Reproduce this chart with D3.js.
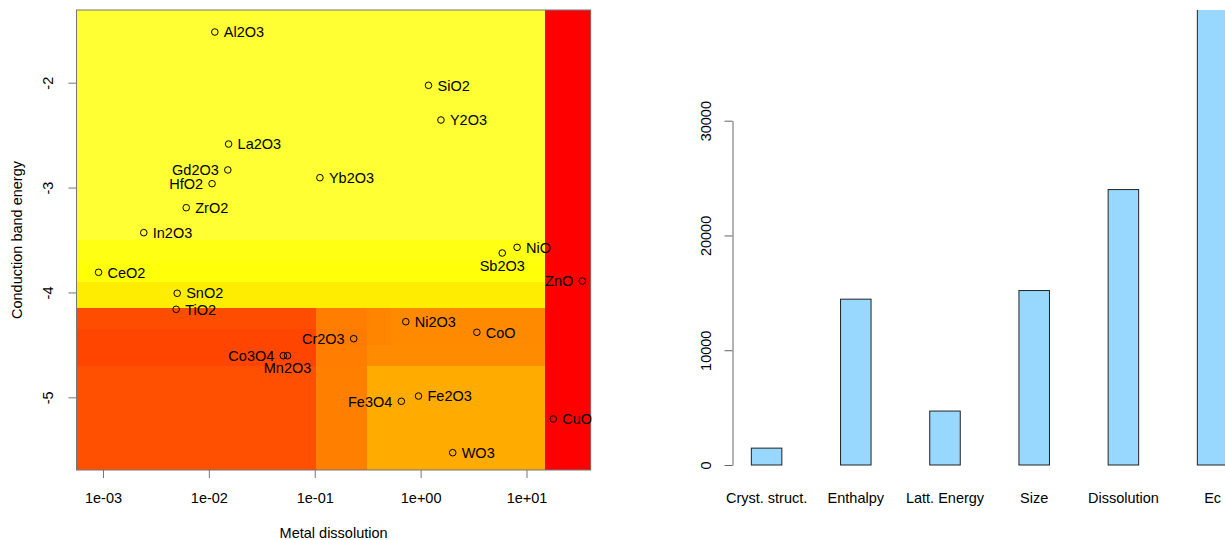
<!DOCTYPE html>
<html><head><meta charset="utf-8">
<script src="https://cdn.jsdelivr.net/npm/d3@7"></script>
<style>
body{margin:0;background:#fff}
svg{display:block}
text{font-family:"Liberation Sans",Arial,Helvetica,sans-serif;font-size:14.5px;fill:#000}
</style>
</head><body>
<svg id="chart" width="1225" height="540"></svg>
<script>
// ---- scatter data ----
const oxides = ["Al2O3","SiO2","Y2O3","La2O3","Gd2O3","HfO2","Yb2O3","ZrO2","In2O3","NiO","Sb2O3","CeO2","ZnO","SnO2","TiO2","Ni2O3","CoO","Cr2O3","Co3O4","Mn2O3","Fe2O3","Fe3O4","CuO","WO3"];
const dissolution = [0.01138,1.187,1.556,0.01535,0.0151,0.01072,0.1119,0.00611,0.002427,8.147,5.902,0.000908,33.65,0.005023,0.004909,0.7244,3.396,0.2333,0.05047,0.05534,0.955,0.6577,17.91,2.009];
const cbEnergy = [-1.517,-2.025,-2.356,-2.585,-2.832,-2.963,-2.906,-3.192,-3.430,-3.570,-3.624,-3.808,-3.891,-4.008,-4.161,-4.279,-4.380,-4.441,-4.603,-4.603,-4.988,-5.038,-5.207,-5.528];
const labelSide = ["r","r","r","r","l","l","r","r","r","r","b","r","l","r","r","r","r","l","l","b","r","l","r","r"];

// ---- background partition (predicted level per cell) ----
const xBreaks = [0.000562,0.1023,0.309,0.525,15.03,40.4];
const yBreaks = [-5.693,-4.701,-4.501,-4.349,-4.151,-3.898,-3.707,-3.500,-1.307];
const heatLevel = [ // rows bottom -> top, columns left -> right
  [0.31,0.50,0.67,0.67,0],
  [0.27,0.49,0.55,0.55,0],
  [0.27,0.48,0.52,0.54,0],
  [0.30,0.49,0.52,0.54,0],
  [0.93,0.93,0.93,0.93,0],
  [1.04,1.04,1.04,1.04,0],
  [1.08,1.08,1.08,1.08,0],
  [1.20,1.20,1.20,1.20,0]
];
const xTicks = [1e-3,1e-2,1e-1,1,10];
const yTicks = [-2,-3,-4,-5];

// ---- bar chart data ----
const features = ["Cryst. struct.","Enthalpy","Latt. Energy","Size","Dissolution","Ec"];
const importance = [1470,14450,4700,15200,24000,40500];
const impTicks = [0,10000,20000,30000];

const svg = d3.select("#chart");
const axisCol = "#777";
const FONT = '"Liberation Sans",Arial,sans-serif';

// ===== Left panel =====
const L = {left:76.5, right:590.7, top:10, bottom:470};
const xs = d3.scaleLog().domain([xBreaks[0], xBreaks[xBreaks.length-1]]).range([L.left, L.right]);
const ys = d3.scaleLinear().domain([yBreaks[0], yBreaks[yBreaks.length-1]]).range([L.bottom, L.top]);
const heat = d3.scaleLinear().domain([0,1,2]).range(["#ff0000","#ffff00","#ffffff"]);

const cells = [];
heatLevel.forEach((row,i)=>row.forEach((z,j)=>cells.push({i,j,z})));
svg.append("g").selectAll("rect").data(cells).join("rect")
  .attr("x",d=>xs(xBreaks[d.j]))
  .attr("width",d=>xs(xBreaks[d.j+1])-xs(xBreaks[d.j]))
  .attr("y",d=>ys(yBreaks[d.i+1]))
  .attr("height",d=>ys(yBreaks[d.i])-ys(yBreaks[d.i+1]))
  .attr("fill",d=>heat(d.z))
  .attr("shape-rendering","crispEdges");

svg.append("rect").attr("x",L.left).attr("y",L.top)
  .attr("width",L.right-L.left).attr("height",L.bottom-L.top)
  .attr("fill","none").attr("stroke",axisCol).attr("stroke-width",1);

const fmtE = v=>{const e=Math.round(Math.log10(v));return "1e"+(e<0?"-":"+")+String(Math.abs(e)).padStart(2,"0");};
const gx = svg.append("g").attr("transform",`translate(0,${L.bottom})`)
  .call(d3.axisBottom(xs).tickValues(xTicks).tickFormat(fmtE).tickSize(8).tickSizeOuter(0));
gx.select(".domain").remove();
gx.selectAll("line").attr("stroke",axisCol);
gx.selectAll("text").attr("y",33).attr("dy",0).style("font-size","14.5px").style("font-family",FONT);

const gy = svg.append("g").attr("transform",`translate(${L.left},0)`)
  .call(d3.axisLeft(ys).tickValues(yTicks).tickFormat(d=>String(d)).tickSize(8).tickSizeOuter(0));
gy.select(".domain").remove();
gy.selectAll("line").attr("stroke",axisCol);
gy.selectAll("text").attr("x",0).attr("dy",0).attr("text-anchor","middle")
  .attr("transform","translate(-23.5,0) rotate(-90)")
  .style("font-size","14.5px").style("font-family",FONT);

svg.append("text").attr("text-anchor","middle")
  .attr("transform",`translate(21.5,${(L.top+L.bottom)/2}) rotate(-90)`).text("Conduction band energy");
svg.append("text").attr("text-anchor","middle")
  .attr("x",(L.left+L.right)/2).attr("y",537.5).text("Metal dissolution");

const pts = oxides.map((n,k)=>({n,x:dissolution[k],y:cbEnergy[k],s:labelSide[k]}));
svg.append("g").selectAll("circle").data(pts).join("circle")
  .attr("cx",d=>xs(d.x)).attr("cy",d=>ys(d.y)).attr("r",3.3)
  .attr("fill","none").attr("stroke","#000").attr("stroke-width",1);
svg.append("g").selectAll("text").data(pts).join("text")
  .attr("x",d=>xs(d.x)+(d.s==="r"?9:d.s==="l"?-9:0))
  .attr("y",d=>ys(d.y)+(d.s==="b"?12.5:0))
  .attr("dy","0.36em")
  .attr("text-anchor",d=>d.s==="r"?"start":d.s==="l"?"end":"middle")
  .text(d=>d.n);

// ===== Right panel =====
const R = {axisX:732.5, top:10, bottom:470};
const bx = d3.scaleBand().domain(features).range([722,1257.2]).paddingInner(0.658).paddingOuter(0.329);
const by = d3.scaleLinear().domain([0,30000]).range([465,120.7]);

svg.append("defs").append("clipPath").attr("id","barclip")
  .append("rect").attr("x",R.axisX).attr("y",R.top).attr("width",600).attr("height",R.bottom-R.top);

svg.append("g").attr("clip-path","url(#barclip)").selectAll("rect").data(features).join("rect")
  .attr("x",d=>bx(d)).attr("width",bx.bandwidth())
  .attr("y",(d,i)=>by(importance[i])).attr("height",(d,i)=>by(0)-by(importance[i]))
  .attr("fill","#98d8ff").attr("stroke","#222").attr("stroke-width",1);

const gb = svg.append("g").attr("transform",`translate(${R.axisX},0)`)
  .call(d3.axisLeft(by).tickValues(impTicks).tickFormat(d3.format("d")).tickSize(8).tickSizeOuter(0));
gb.select(".domain").attr("stroke","#666");
gb.selectAll("line").attr("stroke","#666");
gb.selectAll("text").attr("x",0).attr("dy",0).attr("text-anchor","middle")
  .attr("transform","translate(-22,0) rotate(-90)")
  .style("font-size","14.5px").style("font-family",FONT);

svg.append("g").selectAll("text").data(features).join("text")
  .attr("x",d=>bx(d)+bx.bandwidth()/2).attr("y",503)
  .attr("text-anchor","middle").text(d=>d);
</script>
</body></html>
